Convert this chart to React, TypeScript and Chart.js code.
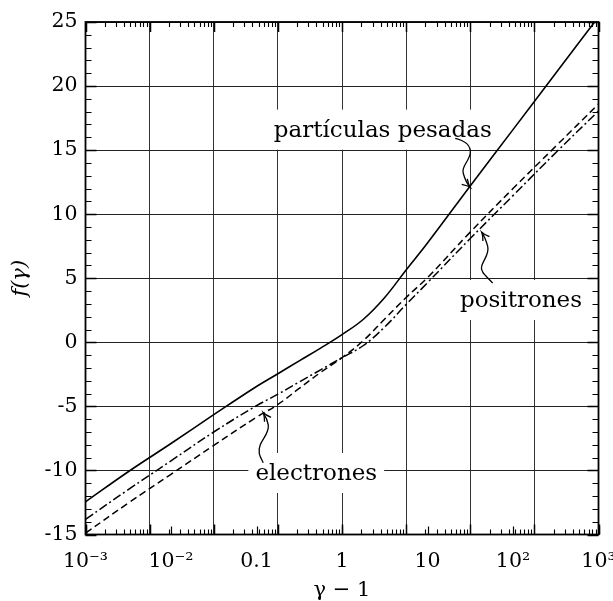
import React, { useEffect, useRef } from 'react';
import { Chart, registerables } from 'chart.js';
Chart.register(...registerables);

// gamma - 1 sample positions (log-spaced)
const gammaMinus1 = [0.001, 0.00316, 0.01, 0.0316, 0.1, 0.178, 0.316, 0.562, 1, 1.78, 3.16, 5.62, 10, 31.6, 100, 316, 1000];
// f(gamma) for each curve
const heavyParticles = [-12.45, -10.1, -7.9, -5.65, -3.45, -2.45, -1.45, -0.45, 0.6, 1.8, 3.5, 5.65, 7.75, 12.2, 16.6, 21.0, 25.4];
const positrons = [-13.82, -11.5, -9.25, -7.0, -4.95, -4.05, -3.1, -2.15, -1.2, -0.25, 1.2, 2.95, 4.65, 8.1, 11.45, 14.8, 18.05];
const electrons = [-14.9, -12.55, -10.3, -8.05, -5.85, -4.85, -3.6, -2.35, -1.2, 0.14, 1.82, 3.5, 5.05, 8.6, 12.0, 15.3, 18.6];

// axis ticks
const xDecades = [0.001, 0.01, 0.1, 1, 10, 100, 1000];
const xDecadeLabels = ['10⁻³', '10⁻²', '0.1', '1', '10', '10²', '10³'];
const gridDivisions = 8; // the figure's own vertical grid (8 equal cells)
const yMin = -15;
const yMax = 25;
const yStep = 5;

// annotations: label text, label anchor (data coords), arrow tip (data coords)
const annotationTexts = ['partículas pesadas', 'positrones', 'electrones'];
const annotationAnchorX = [3.0, 124, 0.5];
const annotationAnchorY = [16.6, 3.3, -10.2];
const arrowTipX = [31.6, 43, 0.12];
const arrowTipY = [12.1, 8.6, -5.5];

const FONT = '"DejaVu Serif", serif';

// arrow shapes (pixel offsets relative to the tip)
const arrowShapes = [
  { start: [-15, -49], curves: [[-6, -47, 1, -42, 0, -34], [-1, -26, -9, -21, -7, -14], [-5, -7, -3, -3, 0, 0]] },
  { start: [11, 51], curves: [[6, 45, -2, 40, 0, 34], [2, 27, 8, 22, 6, 14], [4, 7, 2, 3, 0, 0]] },
  { start: [0, 50], curves: [[-3, 44, -6, 40, -3, 32], [0, 25, 6, 20, 5, 12], [4, 6, 2, 3, 0, 0]] },
];

const decorPlugin = {
  id: 'decor',
  beforeDatasetsDraw(chart: any) {
    const { ctx, scales } = chart;
    const sx = scales.x, sy = scales.y;
    ctx.save();
    ctx.font = `23px ${FONT}`;
    ctx.textAlign = 'center';
    ctx.textBaseline = 'middle';
    annotationTexts.forEach((t, i) => {
      const cx = sx.getPixelForValue(annotationAnchorX[i]);
      const cy = sy.getPixelForValue(annotationAnchorY[i]);
      const w = ctx.measureText(t).width;
      ctx.fillStyle = '#ffffff';
      ctx.fillRect(cx - w / 2 - 7, cy - 20, w + 14, 40);
      ctx.fillStyle = '#000000';
      ctx.fillText(t, cx, cy + 1);
    });
    ctx.restore();
  },
  afterDatasetsDraw(chart: any) {
    const { ctx, chartArea, scales } = chart;
    const { left, right, top, bottom } = chartArea;
    const sx = scales.x, sy = scales.y, sg = scales.xg;
    ctx.save();
    ctx.strokeStyle = '#000';
    ctx.lineCap = 'butt';

    // y ticks (inward, left and right)
    for (let v = yMin; v <= yMax; v += 1) {
      const y = Math.round(sy.getPixelForValue(v)) + 0.5;
      const major = v % yStep === 0;
      const len = major ? 11 : 6;
      ctx.lineWidth = major ? 1.5 : 1.2;
      ctx.beginPath();
      ctx.moveTo(left, y); ctx.lineTo(left + len, y);
      ctx.moveTo(right, y); ctx.lineTo(right - len, y);
      ctx.stroke();
    }
    // x ticks on the figure's grid cells (log-like minor ticks), top and bottom
    for (let k = 0; k <= gridDivisions; k++) {
      const xg = Math.round(sg.getPixelForValue(k)) + 0.5;
      ctx.lineWidth = 1.5;
      ctx.beginPath();
      ctx.moveTo(xg, bottom); ctx.lineTo(xg, bottom - 10);
      ctx.moveTo(xg, top); ctx.lineTo(xg, top + 10);
      ctx.stroke();
      if (k === gridDivisions) break;
      ctx.lineWidth = 1.1;
      for (let m = 2; m <= 9; m++) {
        const x = Math.round(sg.getPixelForValue(k + Math.log10(m))) + 0.5;
        ctx.beginPath();
        ctx.moveTo(x, bottom); ctx.lineTo(x, bottom - 5);
        ctx.moveTo(x, top); ctx.lineTo(x, top + 5);
        ctx.stroke();
      }
    }
    // decade ticks on the bottom axis
    ctx.lineWidth = 1.2;
    xDecades.forEach((d) => {
      const x = Math.round(sx.getPixelForValue(d)) + 0.5;
      ctx.beginPath();
      ctx.moveTo(x, bottom); ctx.lineTo(x, bottom - 8);
      ctx.stroke();
    });

    // frame
    ctx.lineWidth = 1.8;
    ctx.strokeRect(left, top, right - left, bottom - top);

    // curly arrows
    ctx.lineWidth = 1.3;
    arrowShapes.forEach((shape, i) => {
      const tx = sx.getPixelForValue(arrowTipX[i]);
      const ty = sy.getPixelForValue(arrowTipY[i]);
      ctx.beginPath();
      ctx.moveTo(tx + shape.start[0], ty + shape.start[1]);
      shape.curves.forEach((c) => {
        ctx.bezierCurveTo(tx + c[0], ty + c[1], tx + c[2], ty + c[3], tx + c[4], ty + c[5]);
      });
      ctx.stroke();
      const last = shape.curves[shape.curves.length - 1];
      const ang = Math.atan2(-last[3], -last[2]);
      const L = 9;
      ctx.beginPath();
      ctx.moveTo(tx - L * Math.cos(ang - 0.45), ty - L * Math.sin(ang - 0.45));
      ctx.quadraticCurveTo(tx - 3 * Math.cos(ang - 0.2), ty - 3 * Math.sin(ang - 0.2), tx, ty);
      ctx.quadraticCurveTo(tx - 3 * Math.cos(ang + 0.2), ty - 3 * Math.sin(ang + 0.2), tx - L * Math.cos(ang + 0.45), ty - L * Math.sin(ang + 0.45));
      ctx.stroke();
    });
    ctx.restore();
  },
};

function toPoints(ys: number[]) {
  return gammaMinus1.map((x, i) => ({ x, y: ys[i] }));
}

export default function App() {
  const ref = useRef<HTMLCanvasElement>(null);
  useEffect(() => {
    const chart = new Chart(ref.current as HTMLCanvasElement, {
      type: 'line',
      data: {
        datasets: [
          {
            label: 'partículas pesadas',
            data: toPoints(heavyParticles),
            borderColor: '#000',
            borderWidth: 1.6,
            pointRadius: 0,
            tension: 0.4,
            xAxisID: 'x',
            yAxisID: 'y',
          },
          {
            label: 'positrones',
            data: toPoints(positrons),
            borderColor: '#000',
            borderWidth: 1.5,
            borderDash: [9, 3, 2, 3],
            pointRadius: 0,
            tension: 0.4,
            xAxisID: 'x',
            yAxisID: 'y',
          },
          {
            label: 'electrones',
            data: toPoints(electrons),
            borderColor: '#000',
            borderWidth: 1.5,
            borderDash: [7, 4],
            pointRadius: 0,
            tension: 0.4,
            xAxisID: 'x',
            yAxisID: 'y',
          },
        ],
      } as any,
      options: {
        responsive: false,
        animation: false,
        devicePixelRatio: 1,
        layout: { padding: { top: 22, right: 14.5, left: 0, bottom: 0 } },
        plugins: { legend: { display: false }, tooltip: { enabled: false } },
        scales: {
          x: {
            type: 'logarithmic',
            position: 'bottom',
            min: 0.001,
            max: 1000,
            grid: { display: false, drawTicks: false },
            border: { display: false },
            afterBuildTicks: (scale: any) => {
              scale.ticks = xDecades.map((v) => ({ value: v }));
            },
            afterFit: (scale: any) => {
              scale.height = 66.5;
              scale.paddingLeft = 0;
              scale.paddingRight = 0;
            },
            ticks: {
              autoSkip: false,
              maxRotation: 0,
              padding: 15,
              color: '#000',
              font: { family: FONT, size: 20.5 },
              callback: (v: any) => {
                const i = xDecades.findIndex((d) => Math.abs(Math.log10(d) - Math.log10(Number(v))) < 1e-6);
                return i >= 0 ? xDecadeLabels[i] : '';
              },
            },
            title: {
              display: true,
              text: 'γ − 1',
              color: '#000',
              padding: { top: 0, bottom: 0 },
              font: { family: FONT, size: 21, lineHeight: 1 },
            },
          },
          xg: {
            type: 'linear',
            position: 'bottom',
            min: 0,
            max: gridDivisions,
            ticks: { display: false, stepSize: 1 },
            grid: { color: '#333', lineWidth: 1, drawTicks: false },
            border: { display: false },
            afterFit: (scale: any) => {
              scale.height = 0;
              scale.paddingLeft = 0;
              scale.paddingRight = 0;
            },
          },
          y: {
            type: 'linear',
            position: 'left',
            min: yMin,
            max: yMax,
            grid: { color: '#222', lineWidth: 1, drawTicks: false },
            border: { display: false },
            afterFit: (scale: any) => {
              scale.width = 85.5;
              scale.paddingTop = 0;
              scale.paddingBottom = 0;
            },
            ticks: {
              stepSize: yStep,
              padding: 8,
              color: '#000',
              font: { family: FONT, size: 20.5 },
            },
            title: {
              display: true,
              text: 'f(γ)',
              color: '#000',
              padding: { top: 10.5, bottom: 0 },
              font: { family: FONT, size: 21, style: 'italic', lineHeight: 1 },
            },
          },
        },
      } as any,
      plugins: [decorPlugin],
    });
    return () => chart.destroy();
  }, []);
  return (
    <div style={{ position: 'absolute', left: 0, top: 0, width: 613, height: 601, background: '#fff' }}>
      <canvas ref={ref} width={613} height={601} style={{ display: 'block', width: 613, height: 601 }} />
    </div>
  );
}
